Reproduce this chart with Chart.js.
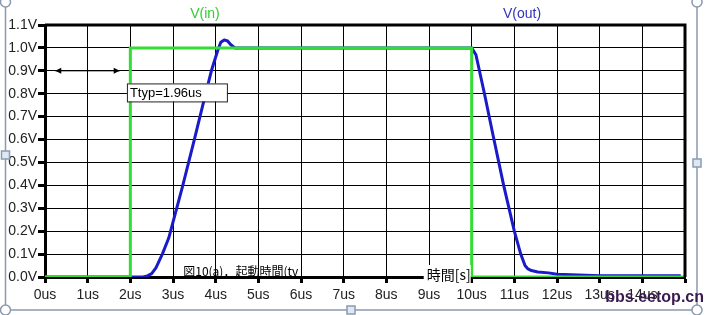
<!DOCTYPE html>
<html><head><meta charset="utf-8">
<script src="https://cdn.jsdelivr.net/npm/chart.js@4/dist/chart.umd.min.js"></script>
<style>html,body{margin:0;padding:0;background:#fff}#wrap{width:705px;height:315px}</style>
</head><body><div id="wrap"><canvas id="c" width="705" height="315"></canvas></div>
<script>
const vinTime = [0, 2, 2, 10, 10, 15];
const vinVolt = [0, 0, 1.0, 1.0, 0, 0];
const voutTime = [0, 2.3, 2.4, 2.5, 2.6, 2.75, 2.9, 3.0, 3.23, 3.5, 3.75, 3.9, 4.05, 4.12, 4.2, 4.28, 4.35, 4.45, 4.55, 10.0, 10.1, 10.3, 10.5, 10.75, 11.0, 11.15, 11.25, 11.32, 11.4, 11.55, 11.8, 12.0, 13.0, 14.9];
const voutVolt = [0, 0, 0.005, 0.015, 0.04, 0.1, 0.17, 0.24, 0.4, 0.6, 0.79, 0.9, 0.99, 1.025, 1.035, 1.03, 1.015, 1.0, 1.0, 1.0, 0.97, 0.8, 0.62, 0.4, 0.2, 0.1, 0.05, 0.035, 0.028, 0.022, 0.018, 0.012, 0.006, 0.006];
const xTicks = [0,1,2,3,4,5,6,7,8,9,10,11,12,13,14,15];
const yTicks = [0,0.1,0.2,0.3,0.4,0.5,0.6,0.7,0.8,0.9,1.0,1.1];
const seriesNames = ["V(in)", "V(out)"];
const annoText = "Ttyp=1.96us";
const captionText = "図10(a)．起動時間(tv";
const axisTitle = "時間[s]";
const watermark = "bbs.eetop.cn";

const toPts = (xs, ys) => xs.map((x, i) => ({x, y: ys[i]}));

const deco = {
  id: 'deco',
  afterDraw(chart) {
    const {ctx, chartArea: a, scales: {x, y}} = chart;
    ctx.save();
    ctx.strokeStyle = '#000'; ctx.lineWidth = 3;
    ctx.beginPath();
    ctx.moveTo(a.left, a.top); ctx.lineTo(a.right, a.top); ctx.lineTo(a.right, a.bottom);
    ctx.stroke();
    ctx.font = '14px "Liberation Sans", Arial, sans-serif';
    ctx.textAlign = 'center'; ctx.textBaseline = 'middle';
    ctx.fillStyle = '#33cc33'; ctx.fillText(seriesNames[0], 205, 14);
    ctx.fillStyle = '#3333bb'; ctx.fillText(seriesNames[1], 522, 14);
    const ay = y.getPixelForValue(0.9);
    const ax1 = x.getPixelForValue(0.24), ax2 = x.getPixelForValue(1.75);
    ctx.strokeStyle = '#000'; ctx.lineWidth = 1;
    ctx.beginPath(); ctx.moveTo(ax1, ay); ctx.lineTo(ax2, ay); ctx.stroke();
    ctx.fillStyle = '#000';
    ctx.beginPath(); ctx.moveTo(ax1, ay); ctx.lineTo(ax1 + 6, ay - 3); ctx.lineTo(ax1 + 6, ay + 3); ctx.fill();
    ctx.beginPath(); ctx.moveTo(ax2, ay); ctx.lineTo(ax2 - 6, ay - 3); ctx.lineTo(ax2 - 6, ay + 3); ctx.fill();
    const bx = x.getPixelForValue(1.92), by = y.getPixelForValue(0.845);
    ctx.fillStyle = '#fff'; ctx.fillRect(bx, by, 100, 18);
    ctx.strokeStyle = '#222'; ctx.lineWidth = 1; ctx.strokeRect(bx + 0.5, by + 0.5, 100, 18);
    ctx.fillStyle = '#000'; ctx.textAlign = 'left';
    ctx.font = '13px "Liberation Sans", Arial, sans-serif';
    ctx.fillText(annoText, bx + 3, by + 10);
    ctx.font = '12px "Noto Sans CJK JP", sans-serif';
    ctx.textBaseline = 'alphabetic';
    ctx.fillText(captionText, x.getPixelForValue(3.24), a.bottom - 1);
    const tx = x.getPixelForValue(8.9);
    ctx.fillStyle = '#fff'; ctx.fillRect(tx - 1, a.bottom - 12, 47, 18);
    ctx.fillStyle = '#000'; ctx.font = '14px "Noto Sans CJK JP", sans-serif';
    ctx.textBaseline = 'middle';
    ctx.fillText(axisTitle, tx + 2, a.bottom - 2);
    ctx.strokeStyle = '#8a9bb0'; ctx.lineWidth = 1.5;
    ctx.beginPath();
    ctx.moveTo(5.5, 0); ctx.lineTo(5.5, 310); ctx.lineTo(697, 310); ctx.lineTo(697, 0);
    ctx.stroke();
    ctx.fillStyle = '#fff';
    [[5.5, 2], [697, 2], [5.5, 310], [697, 310]].forEach(([cx, cy]) => {
      ctx.beginPath(); ctx.arc(cx, cy, 5, 0, Math.PI * 2); ctx.fill(); ctx.stroke();
    });
    ctx.fillStyle = '#dde8f3';
    [[5.5, 155], [697, 163], [351, 310]].forEach(([cx, cy]) => {
      ctx.fillRect(cx - 4, cy - 4, 8, 8); ctx.strokeRect(cx - 4, cy - 4, 8, 8);
    });
    ctx.fillStyle = '#3b1a4f'; ctx.font = 'bold 16px "Liberation Sans Narrow", "Liberation Sans", Arial, sans-serif';
    ctx.textAlign = 'right'; ctx.textBaseline = 'middle';
    ctx.fillText(watermark, 704, 298);
    ctx.restore();
  }
};

new Chart(document.getElementById('c'), {
  type: 'line',
  data: {
    datasets: [
      {label: seriesNames[0], data: toPts(vinTime, vinVolt), borderColor: '#33dd33', borderWidth: 3, pointRadius: 0, tension: 0},
      {label: seriesNames[1], data: toPts(voutTime, voutVolt), borderColor: '#1a1ac8', borderWidth: 3, pointRadius: 0, tension: 0, borderJoinStyle: 'round'}
    ]
  },
  options: {
    responsive: false, animation: false,
    layout: {padding: {left: 0, right: 20, top: 25, bottom: 0}},
    plugins: {legend: {display: false}, tooltip: {enabled: false}},
    scales: {
      x: {
        type: 'linear', min: 0, max: 15,
        afterBuildTicks: s => { s.ticks = xTicks.map(v => ({value: v})); },
        afterFit: s => { s.height = 38; },
        ticks: {autoSkip: false, maxRotation: 0, color: '#222', padding: 4,
          font: {family: '"Liberation Sans", Arial, sans-serif', size: 14},
          callback: v => v === 15 ? '' : v + 'us'},
        grid: {color: '#000', lineWidth: 1, borderDash: [3, 3], tickLength: 6, tickColor: '#000', tickWidth: 3, tickBorderDash: []},
        border: {color: '#000', width: 3}
      },
      y: {
        min: 0, max: 1.1,
        afterBuildTicks: s => { s.ticks = yTicks.map(v => ({value: v})); },
        afterFit: s => { s.width = 45; },
        ticks: {autoSkip: false, color: '#222', padding: 1,
          font: {family: '"Liberation Sans", Arial, sans-serif', size: 14},
          callback: v => v.toFixed(1) + 'V'},
        grid: {color: '#000', lineWidth: 1, borderDash: [3, 3], tickLength: 7, tickColor: '#000', tickWidth: 3, tickBorderDash: []},
        border: {color: '#000', width: 3}
      }
    }
  },
  plugins: [deco]
});
</script></body></html>
